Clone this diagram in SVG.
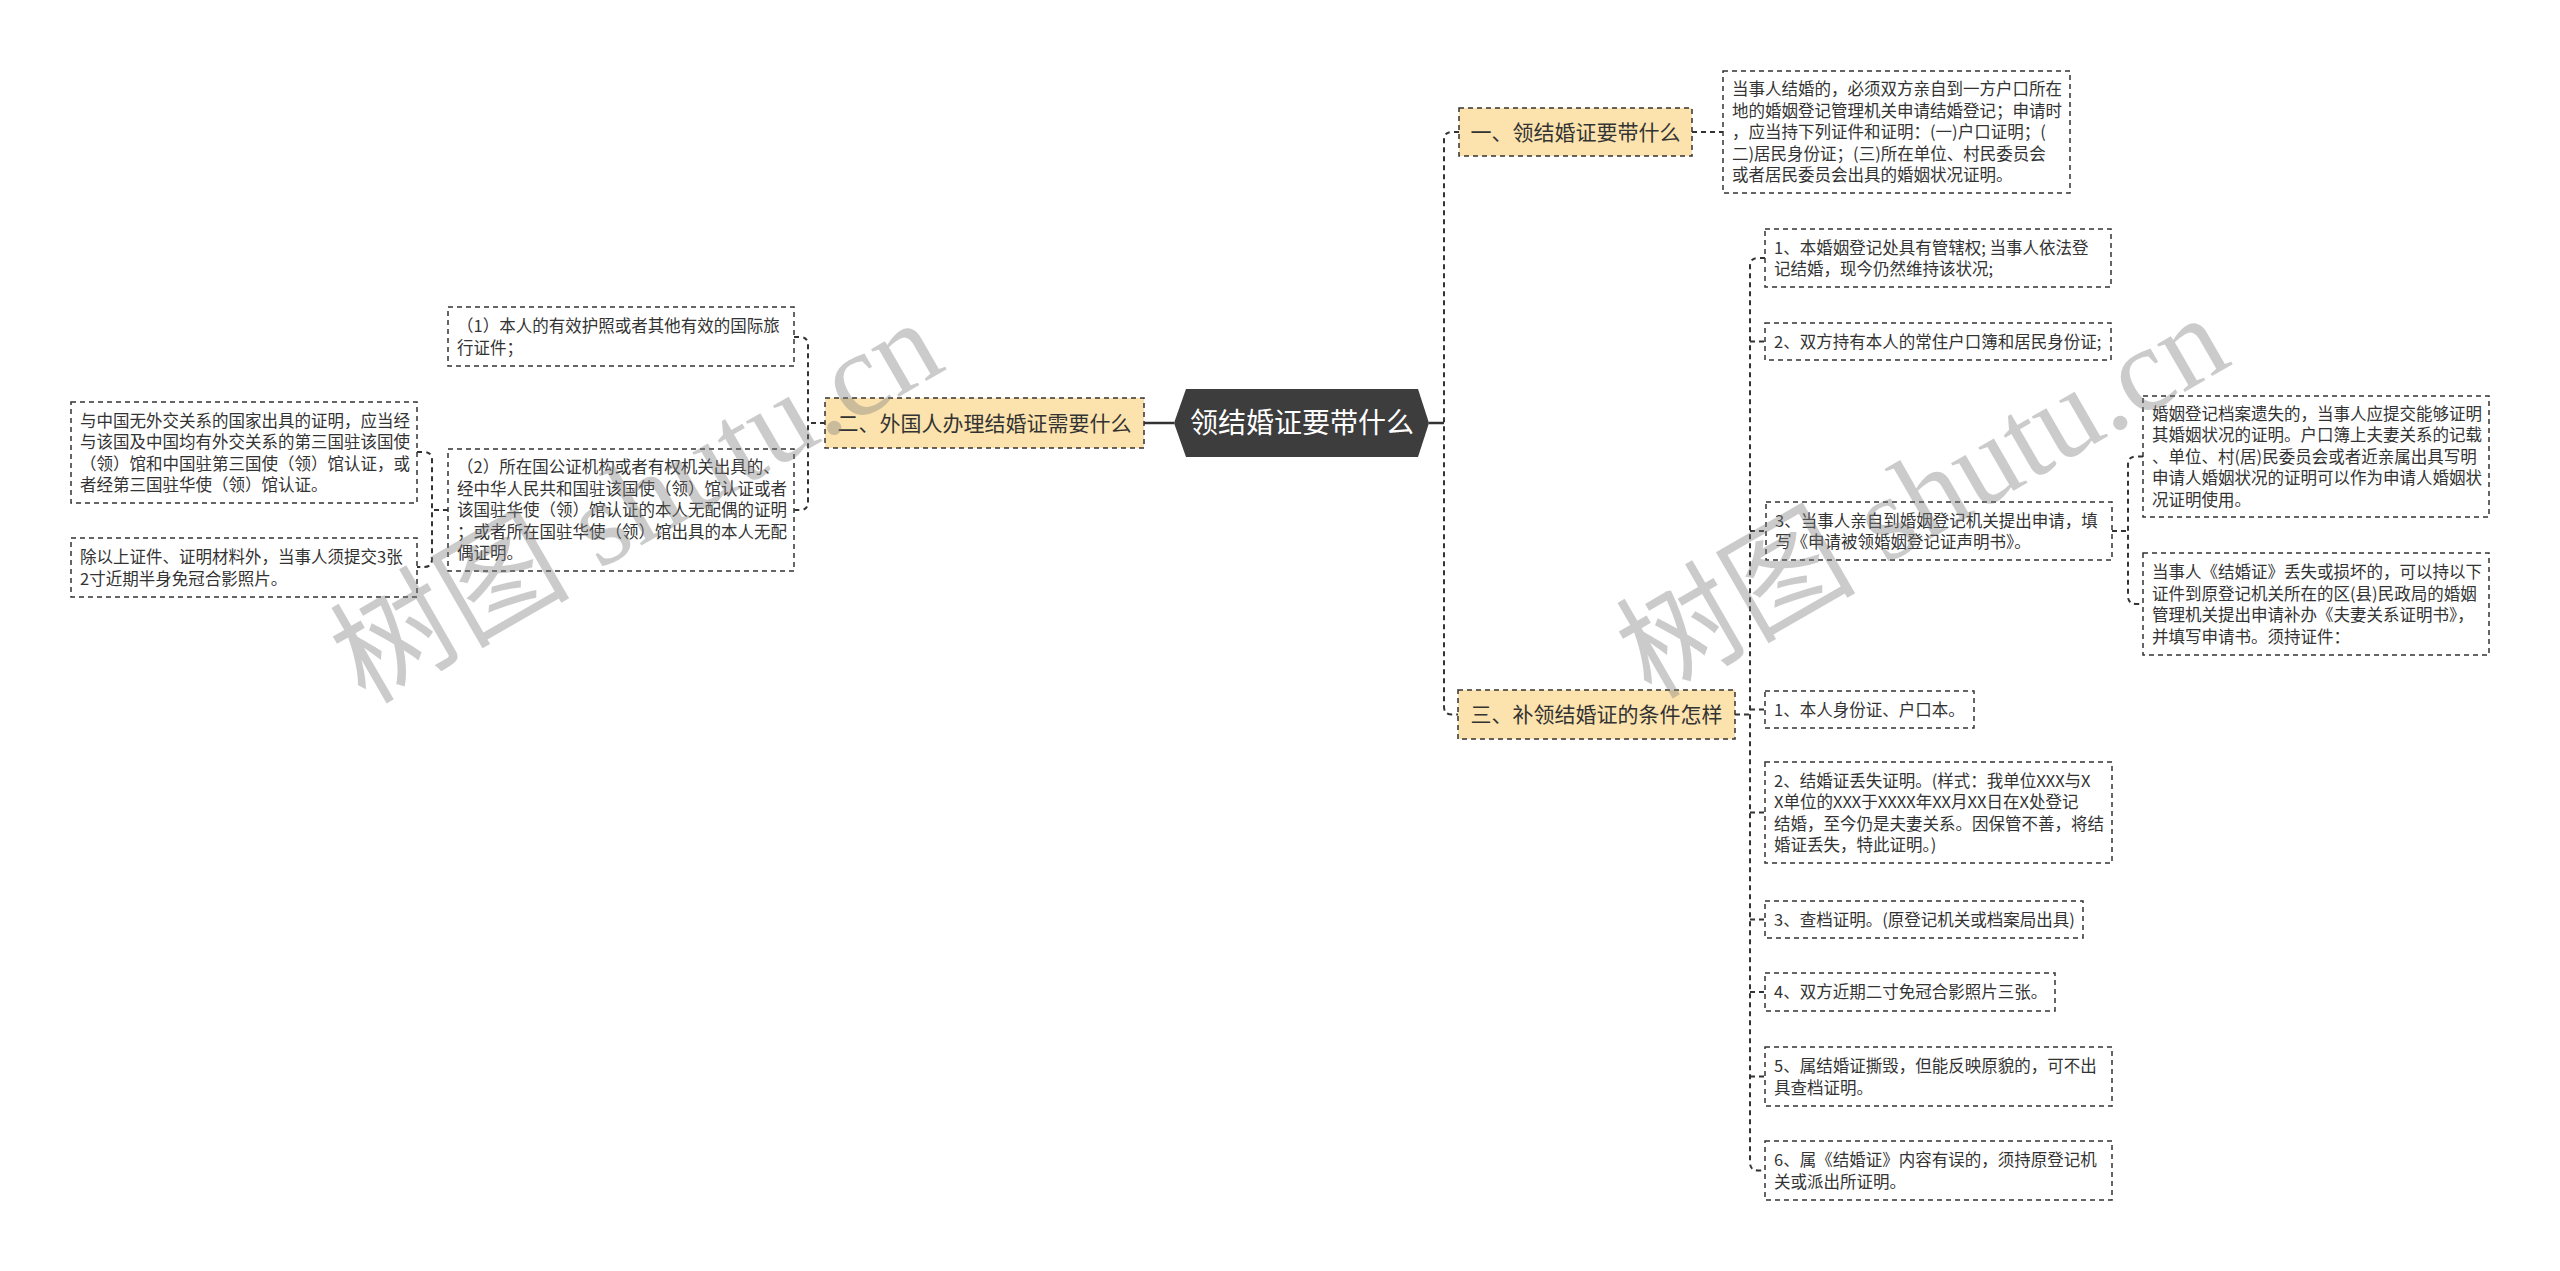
<svg xmlns="http://www.w3.org/2000/svg" width="2560" height="1271" viewBox="0 0 2560 1271">
<style>
.bg{fill:#ffffff}
.box{fill:#ffffff;stroke:#333333;stroke-width:1.5;stroke-dasharray:5 4}
.topic{fill:#fce3ad;stroke:#333333;stroke-width:1.5;stroke-dasharray:5 4}
.t{font-family:"Noto Sans CJK SC","Microsoft YaHei",sans-serif;font-size:16.5px;fill:#333333}
.tt{font-family:"Noto Sans CJK SC","Microsoft YaHei",sans-serif;font-size:21px;fill:#333333;text-anchor:middle}
.rt{font-family:"Noto Sans CJK SC","Microsoft YaHei",sans-serif;font-size:28px;fill:#ffffff;text-anchor:middle}
.c{fill:none;stroke:#333333;stroke-width:2;stroke-dasharray:5 4}
.s{fill:none;stroke:#333333;stroke-width:2.5}
.wm{font-family:"Liberation Serif","Noto Sans CJK SC",serif;font-size:120px;fill:#808080;opacity:0.4}
</style>
<rect class="bg" x="0" y="0" width="2560" height="1271"/>

<g id="connectors">
<path class="s" d="M1174,423 H1144"/>
<path class="s" d="M1429,423 H1444"/>
<path class="c" d="M1459,132 H1452 Q1444,132 1444,140 V706.5 Q1444,714.5 1452,714.5 H1458"/>
<path class="c" d="M1692,132 H1723"/>
<path class="c" d="M825,423 H808"/>
<path class="c" d="M794,337 H800 Q808,337 808,345 V502 Q808,510 800,510 H794"/>
<path class="c" d="M448,510 H432"/>
<path class="c" d="M417,452 H424 Q432,452 432,460 V559 Q432,567 424,567 H417"/>
<path class="c" d="M1735,714.5 H1750"/>
<path class="c" d="M1765,258 H1758 Q1750,258 1750,266 V1162.5 Q1750,1170.5 1758,1170.5 H1765"/>
<path class="c" d="M1750,341.5 H1765 M1750,531 H1766 M1750,709.5 H1765 M1750,812.5 H1765 M1750,919.5 H1765 M1750,992 H1765 M1750,1076.5 H1765"/>
<path class="c" d="M2112,531 H2128"/>
<path class="c" d="M2143,456.5 H2136 Q2128,456.5 2128,464.5 V596 Q2128,604 2136,604 H2143"/>
</g>

<g id="root">
<polygon points="1174,423 1186,389 1418,389 1429,423 1418,457 1186,457" fill="#3d3d3d"/>
<text class="rt" x="1302" y="433">领结婚证要带什么</text>
</g>

<g id="n1">
<rect class="topic" x="1459" y="108" width="233" height="48"/>
<text class="tt" x="1575.5" y="140">一、领结婚证要带什么</text>
</g>
<g id="n1a">
<rect class="box" x="1723" y="71" width="347" height="122"/>
<text class="t" x="1732" y="95">当事人结婚的，必须双方亲自到一方户口所在</text>
<text class="t" x="1732" y="116.5">地的婚姻登记管理机关申请结婚登记；申请时</text>
<text class="t" x="1732" y="138">，应当持下列证件和证明：(一)户口证明；(</text>
<text class="t" x="1732" y="159.5">二)居民身份证；(三)所在单位、村民委员会</text>
<text class="t" x="1732" y="181">或者居民委员会出具的婚姻状况证明。</text>
</g>

<g id="n2">
<rect class="topic" x="825" y="398" width="319" height="50"/>
<text class="tt" x="984.5" y="431">二、外国人办理结婚证需要什么</text>
</g>
<g id="n2a">
<rect class="box" x="448" y="307" width="346" height="59"/>
<text class="t" x="457" y="332">（1）本人的有效护照或者其他有效的国际旅</text>
<text class="t" x="457" y="353.5">行证件；</text>
</g>
<g id="n2b">
<rect class="box" x="448" y="449" width="346" height="122"/>
<text class="t" x="457" y="473">（2）所在国公证机构或者有权机关出具的、</text>
<text class="t" x="457" y="494.5">经中华人民共和国驻该国使（领）馆认证或者</text>
<text class="t" x="457" y="516">该国驻华使（领）馆认证的本人无配偶的证明</text>
<text class="t" x="457" y="537.5">；或者所在国驻华使（领）馆出具的本人无配</text>
<text class="t" x="457" y="559">偶证明。</text>
</g>
<g id="n2b1">
<rect class="box" x="71" y="402" width="346" height="101"/>
<text class="t" x="80" y="426.5">与中国无外交关系的国家出具的证明，应当经</text>
<text class="t" x="80" y="448">与该国及中国均有外交关系的第三国驻该国使</text>
<text class="t" x="80" y="469.5">（领）馆和中国驻第三国使（领）馆认证，或</text>
<text class="t" x="80" y="491">者经第三国驻华使（领）馆认证。</text>
</g>
<g id="n2b2">
<rect class="box" x="71" y="538" width="346" height="59"/>
<text class="t" x="80" y="563">除以上证件、证明材料外，当事人须提交3张</text>
<text class="t" x="80" y="584.5">2寸近期半身免冠合影照片。</text>
</g>

<g id="n3">
<rect class="topic" x="1458" y="690" width="277" height="49"/>
<text class="tt" x="1596.5" y="722">三、补领结婚证的条件怎样</text>
</g>
<g id="n3a">
<rect class="box" x="1765" y="229" width="346" height="58"/>
<text class="t" x="1774" y="253.5">1、本婚姻登记处具有管辖权; 当事人依法登</text>
<text class="t" x="1774" y="275">记结婚，现今仍然维持该状况;</text>
</g>
<g id="n3b">
<rect class="box" x="1765" y="323" width="346" height="37"/>
<text class="t" x="1774" y="347.5">2、双方持有本人的常住户口簿和居民身份证;</text>
</g>
<g id="n3c">
<rect class="box" x="1766" y="502" width="346" height="58"/>
<text class="t" x="1775" y="526.5">3、当事人亲自到婚姻登记机关提出申请，填</text>
<text class="t" x="1775" y="548">写《申请被领婚姻登记证声明书》。</text>
</g>
<g id="n3c1">
<rect class="box" x="2143" y="396" width="346" height="121"/>
<text class="t" x="2152" y="419.5">婚姻登记档案遗失的，当事人应提交能够证明</text>
<text class="t" x="2152" y="441">其婚姻状况的证明。户口簿上夫妻关系的记载</text>
<text class="t" x="2152" y="462.5">、单位、村(居)民委员会或者近亲属出具写明</text>
<text class="t" x="2152" y="484">申请人婚姻状况的证明可以作为申请人婚姻状</text>
<text class="t" x="2152" y="505.5">况证明使用。</text>
</g>
<g id="n3c2">
<rect class="box" x="2143" y="553" width="346" height="102"/>
<text class="t" x="2152" y="578">当事人《结婚证》丢失或损坏的，可以持以下</text>
<text class="t" x="2152" y="599.5">证件到原登记机关所在的区(县)民政局的婚姻</text>
<text class="t" x="2152" y="621">管理机关提出申请补办《夫妻关系证明书》，</text>
<text class="t" x="2152" y="642.5">并填写申请书。须持证件：</text>
</g>
<g id="n3d">
<rect class="box" x="1765" y="691" width="209" height="37"/>
<text class="t" x="1774" y="715.5">1、本人身份证、户口本。</text>
</g>
<g id="n3e">
<rect class="box" x="1765" y="762" width="347" height="101"/>
<text class="t" x="1774" y="786.5">2、结婚证丢失证明。(样式：我单位XXX与X</text>
<text class="t" x="1774" y="808">X单位的XXX于XXXX年XX月XX日在X处登记</text>
<text class="t" x="1774" y="829.5">结婚，至今仍是夫妻关系。因保管不善，将结</text>
<text class="t" x="1774" y="851">婚证丢失，特此证明。)</text>
</g>
<g id="n3f">
<rect class="box" x="1765" y="901" width="318" height="37"/>
<text class="t" x="1774" y="925.5">3、查档证明。(原登记机关或档案局出具)</text>
</g>
<g id="n3g">
<rect class="box" x="1765" y="973" width="290" height="38"/>
<text class="t" x="1774" y="998">4、双方近期二寸免冠合影照片三张。</text>
</g>
<g id="n3h">
<rect class="box" x="1765" y="1047" width="347" height="59"/>
<text class="t" x="1774" y="1072">5、属结婚证撕毁，但能反映原貌的，可不出</text>
<text class="t" x="1774" y="1093.5">具查档证明。</text>
</g>
<g id="n3i">
<rect class="box" x="1765" y="1141" width="347" height="59"/>
<text class="t" x="1774" y="1166">6、属《结婚证》内容有误的，须持原登记机</text>
<text class="t" x="1774" y="1187.5">关或派出所证明。</text>
</g>

<g id="watermark">
<text class="wm" transform="translate(365,705) rotate(-30)">树图 shutu.cn</text>
<text class="wm" transform="translate(1651,700) rotate(-30)">树图 shutu.cn</text>
</g>
</svg>
